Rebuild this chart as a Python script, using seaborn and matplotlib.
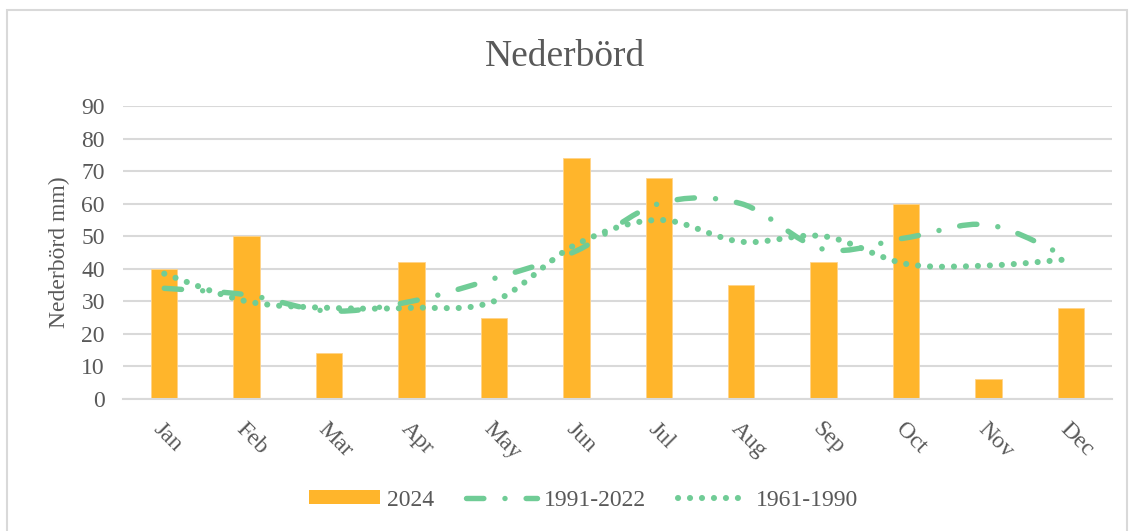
import numpy as np
import seaborn as sns
import matplotlib.pyplot as plt
from matplotlib.path import Path
from matplotlib.patches import PathPatch, Rectangle
from matplotlib.lines import Line2D

# Monthly precipitation (mm)
months = ["Jan", "Feb", "Mar", "Apr", "May", "Jun",
          "Jul", "Aug", "Sep", "Oct", "Nov", "Dec"]
rain_2024 = [40, 50, 14, 42, 25, 74, 68, 35, 42, 60, 6, 28]
mean_1991_2022 = [34, 32, 27, 30, 37, 45.5, 60, 60, 46, 49.5, 53.5, 43]
mean_1961_1990 = [38.5, 30, 28, 28, 30, 47.5, 55, 48.3, 50, 41.5, 41, 43]

bar_color = "#FFB52B"
line_color = "#70CC96"
text_color = "#595959"
grid_color = "#D9D9D9"

sns.set_theme(style="white")
plt.rcParams["font.family"] = ["Liberation Serif", "DejaVu Serif"]

fig = plt.figure(figsize=(11.31, 5.31), dpi=100)
ax = fig.add_axes([0.1088, 0.2486, 0.8744, 0.5518])

sns.barplot(x=months, y=rain_2024, color=bar_color, width=0.32,
            saturation=1, ax=ax, edgecolor="#FFD48A", linewidth=0.6)


def smooth_path(values):
    # Excel style smoothed line: Catmull-Rom as cubic Bezier segments
    pts = np.column_stack([np.arange(len(values)), values]).astype(float)
    verts = [pts[0]]
    codes = [Path.MOVETO]
    n = len(pts)
    for i in range(n - 1):
        p_prev = pts[i - 1] if i > 0 else pts[i]
        p_next2 = pts[i + 2] if i + 2 < n else pts[i + 1]
        c1 = pts[i] + (pts[i + 1] - p_prev) / 6
        c2 = pts[i + 1] - (p_next2 - pts[i]) / 6
        verts += [c1, c2, pts[i + 1]]
        codes += [Path.CURVE4] * 3
    return Path(verts, codes)


dash_1991 = (0, (3.2, 3.9, 0.01, 3.9))
dot_1961 = (0, (0.01, 1.95))
lw_dash, lw_dot = 3.9, 4.4

for vals, ls, lw in [(mean_1991_2022, dash_1991, lw_dash), (mean_1961_1990, dot_1961, lw_dot)]:
    patch = PathPatch(smooth_path(vals), fill=False, edgecolor=line_color,
                      linewidth=lw, linestyle=ls, capstyle="round",
                      transform=ax.transData, zorder=3)
    ax.add_patch(patch)

ax.set_ylim(0, 90)
ax.set_xlim(-0.5, 11.5)
ax.set_yticks(range(0, 91, 10))
ax.yaxis.grid(True, color=grid_color, linewidth=1.5)
ax.set_axisbelow(True)
for side in ["top", "right", "left"]:
    ax.spines[side].set_visible(False)
ax.spines["bottom"].set_color(grid_color)
ax.spines["bottom"].set_linewidth(1.5)
ax.tick_params(axis="both", length=0, labelsize=17, colors=text_color)
ax.tick_params(axis="y", pad=13)
ax.tick_params(axis="x", pad=14)
for lab in ax.get_xticklabels():
    lab.set_rotation(-45)
    lab.set_ha("left")
    lab.set_va("top")
    lab.set_rotation_mode("anchor")

ax.set_ylabel("Nederbörd mm)", fontsize=17, color=text_color, labelpad=8)
ax.set_xlabel("")
fig.suptitle("Nederbörd", fontsize=27, color=text_color, y=0.925)

handles = [
    Rectangle((0, 0), 1, 1, facecolor=bar_color, edgecolor="none"),
    Line2D([0], [0], color=line_color, lw=lw_dash, ls=dash_1991, dash_capstyle="round"),
    Line2D([0], [0], color=line_color, lw=lw_dot, ls=dot_1961, dash_capstyle="round"),
]
leg = fig.legend(handles, ["2024", "1991-2022", "1961-1990"], loc="center",
                 bbox_to_anchor=(0.516, 0.058), ncol=3, frameon=False, fontsize=17,
                 handlelength=3.0, handleheight=0.55, columnspacing=1.35, handletextpad=0.3)
for t in leg.get_texts():
    t.set_color(text_color)

fig.patches.append(Rectangle((0.0066, -0.02), 0.99, 1.001, transform=fig.transFigure,
                             fill=False, edgecolor=grid_color, linewidth=1.5))

fig.savefig("out.png", dpi=100)
